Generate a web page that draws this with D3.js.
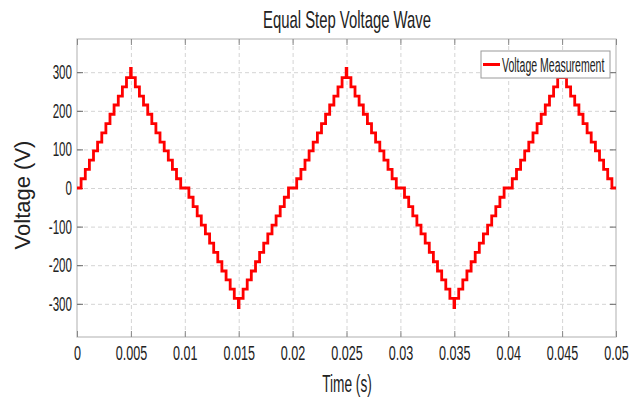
<!DOCTYPE html>
<html>
<head>
<meta charset="utf-8">
<title>Equal Step Voltage Wave</title>
<script src="https://d3js.org/d3.v7.min.js"></script>
<style>
  body { margin: 0; background: #fff; }
  svg text { font-family: "Liberation Sans", Arial, sans-serif; fill: #222; }
</style>
</head>
<body>
<svg id="chart" width="643" height="401"></svg>
<script>
// step edges of the staircase, time in ms
var edgeTimes = [
  0, 0.38, 0.77, 1.15, 1.53, 1.91, 2.30, 2.68, 3.06, 3.44, 3.83, 4.21, 4.59, 4.97,
  5.03, 5.41, 5.79, 6.17, 6.56, 6.94, 7.32, 7.70, 8.09, 8.47, 8.85, 9.23, 9.62,
  10.38, 10.77, 11.15, 11.53, 11.91, 12.30, 12.68, 13.06, 13.44, 13.83, 14.21, 14.59, 14.97,
  15.03, 15.41, 15.79, 16.17, 16.56, 16.94, 17.32, 17.70, 18.09, 18.47, 18.85, 19.23, 19.62,
  20.38, 20.77, 21.15, 21.53, 21.91, 22.30, 22.68, 23.06, 23.44, 23.83, 24.21, 24.59, 24.97,
  25.03, 25.41, 25.79, 26.17, 26.56, 26.94, 27.32, 27.70, 28.09, 28.47, 28.85, 29.23, 29.62,
  30.38, 30.77, 31.15, 31.53, 31.91, 32.30, 32.68, 33.06, 33.44, 33.83, 34.21, 34.59, 34.97,
  35.03, 35.41, 35.79, 36.17, 36.56, 36.94, 37.32, 37.70, 38.09, 38.47, 38.85, 39.23, 39.62,
  40.38, 40.77, 41.15, 41.53, 41.91, 42.30, 42.68, 43.06, 43.44, 43.83, 44.21, 44.59, 44.97,
  45.03, 45.41, 45.79, 46.17, 46.56, 46.94, 47.32, 47.70, 48.09, 48.47, 48.85, 49.23, 49.62,
  50
];
// voltage level held from each edge (V)
var edgeVolts = [
  0, 24, 48, 72, 96, 119, 143, 167, 191, 215, 238, 262, 286, 310,
  286, 262, 238, 215, 191, 167, 143, 119, 96, 72, 48, 24, 0,
  -24, -48, -72, -96, -119, -143, -167, -191, -215, -238, -262, -286, -310,
  -286, -262, -238, -215, -191, -167, -143, -119, -96, -72, -48, -24, 0,
  24, 48, 72, 96, 119, 143, 167, 191, 215, 238, 262, 286, 310,
  286, 262, 238, 215, 191, 167, 143, 119, 96, 72, 48, 24, 0,
  -24, -48, -72, -96, -119, -143, -167, -191, -215, -238, -262, -286, -310,
  -286, -262, -238, -215, -191, -167, -143, -119, -96, -72, -48, -24, 0,
  24, 48, 72, 96, 119, 143, 167, 191, 215, 238, 262, 286, 310,
  286, 262, 238, 215, 191, 167, 143, 119, 96, 72, 48, 24, 0,
  0
];
var xTicks = [0, 5, 10, 15, 20, 25, 30, 35, 40, 45, 50];
var xTickLabels = ["0", "0.005", "0.01", "0.015", "0.02", "0.025", "0.03", "0.035", "0.04", "0.045", "0.05"];
var yTicks = [-300, -200, -100, 0, 100, 200, 300];
var yTickLabels = ["-300", "-200", "-100", "0", "100", "200", "300"];

var svg = d3.select("#chart");
var pLeft = 77, pRight = 616, pTop = 39, pBottom = 337;

var x = d3.scaleLinear().domain([0, 50]).range([pLeft, pRight]);
var y = d3.scaleLinear().domain([-386, 386]).range([pBottom, pTop]);

var data = edgeTimes.map(function(t, i) { return { t: t, v: edgeVolts[i] }; });

// grid
svg.append("g")
  .attr("transform", "translate(0," + pBottom + ")")
  .call(d3.axisBottom(x).tickValues(xTicks.slice(1, -1)).tickSize(-(pBottom - pTop)).tickFormat(""))
  .call(function(g) { g.select(".domain").remove(); })
  .selectAll("line").attr("stroke", "#d4d4d4").attr("stroke-dasharray", "4,3");
svg.append("g")
  .attr("transform", "translate(" + pLeft + ",0)")
  .call(d3.axisLeft(y).tickValues(yTicks).tickSize(-(pRight - pLeft)).tickFormat(""))
  .call(function(g) { g.select(".domain").remove(); })
  .selectAll("line").attr("stroke", "#d4d4d4").attr("stroke-dasharray", "4,3");

// box
svg.append("rect")
  .attr("x", pLeft).attr("y", pTop)
  .attr("width", pRight - pLeft).attr("height", pBottom - pTop)
  .attr("fill", "none").attr("stroke", "#bdbdbd").attr("stroke-width", 1.2);

// ticks + labels
var gx = svg.append("g")
  .attr("transform", "translate(0," + pBottom + ")")
  .call(d3.axisBottom(x).tickValues(xTicks).tickSize(-6).tickPadding(8)
    .tickFormat(function(d, i) { return xTickLabels[i]; }));
gx.select(".domain").remove();
gx.selectAll("line").attr("stroke", "#888");
gx.selectAll("text").style("font-size", "21px").attr("fill", "#222")
  .attr("transform", "scale(0.6,1)");

var gxt = svg.append("g")
  .attr("transform", "translate(0," + pTop + ")")
  .call(d3.axisTop(x).tickValues(xTicks).tickSize(-6).tickFormat(""));
gxt.select(".domain").remove();
gxt.selectAll("line").attr("stroke", "#888");

var gy = svg.append("g")
  .attr("transform", "translate(" + pLeft + ",0)")
  .call(d3.axisLeft(y).tickValues(yTicks).tickSize(-6)
    .tickFormat(function(d, i) { return yTickLabels[i]; }));
gy.select(".domain").remove();
gy.selectAll("line").attr("stroke", "#666");
gy.selectAll("text").style("font-size", "20px").attr("fill", "#222")
  .attr("x", -5 / 0.58).attr("transform", "scale(0.58,1)");

var gyr = svg.append("g")
  .attr("transform", "translate(" + pRight + ",0)")
  .call(d3.axisRight(y).tickValues(yTicks).tickSize(-6).tickFormat(""));
gyr.select(".domain").remove();
gyr.selectAll("line").attr("stroke", "#666");

// staircase
var line = d3.line()
  .curve(d3.curveStepAfter)
  .x(function(d) { return x(d.t); })
  .y(function(d) { return y(d.v); });

svg.append("path")
  .datum(data)
  .attr("d", line)
  .attr("fill", "none")
  .attr("stroke", "#ff0000")
  .attr("stroke-width", 2.8)
  .attr("stroke-linejoin", "miter");

// title and axis labels
svg.append("text")
  .attr("transform", "translate(347,28) scale(0.62,1)")
  .attr("text-anchor", "middle")
  .style("font-size", "24px")
  .text("Equal Step Voltage Wave");

svg.append("text")
  .attr("transform", "translate(347,392) scale(0.57,1)")
  .attr("text-anchor", "middle")
  .style("font-size", "24px")
  .text("Time (s)");

svg.append("text")
  .attr("transform", "translate(30,195) rotate(-90)")
  .attr("text-anchor", "middle")
  .style("font-size", "22px")
  .style("font-weight", "500")
  .text("Voltage (V)");

// legend
var lg = svg.append("g");
lg.append("rect")
  .attr("x", 481).attr("y", 51).attr("width", 129).attr("height", 27)
  .attr("fill", "#fff").attr("stroke", "#9a9a9a");
lg.append("line")
  .attr("x1", 483).attr("x2", 500).attr("y1", 64.5).attr("y2", 64.5)
  .attr("stroke", "#ff0000").attr("stroke-width", 3);
lg.append("text")
  .attr("transform", "translate(502,71.5) scale(0.54,1)")
  .style("font-size", "19.5px")
  .text("Voltage Measurement");
</script>
</body>
</html>
